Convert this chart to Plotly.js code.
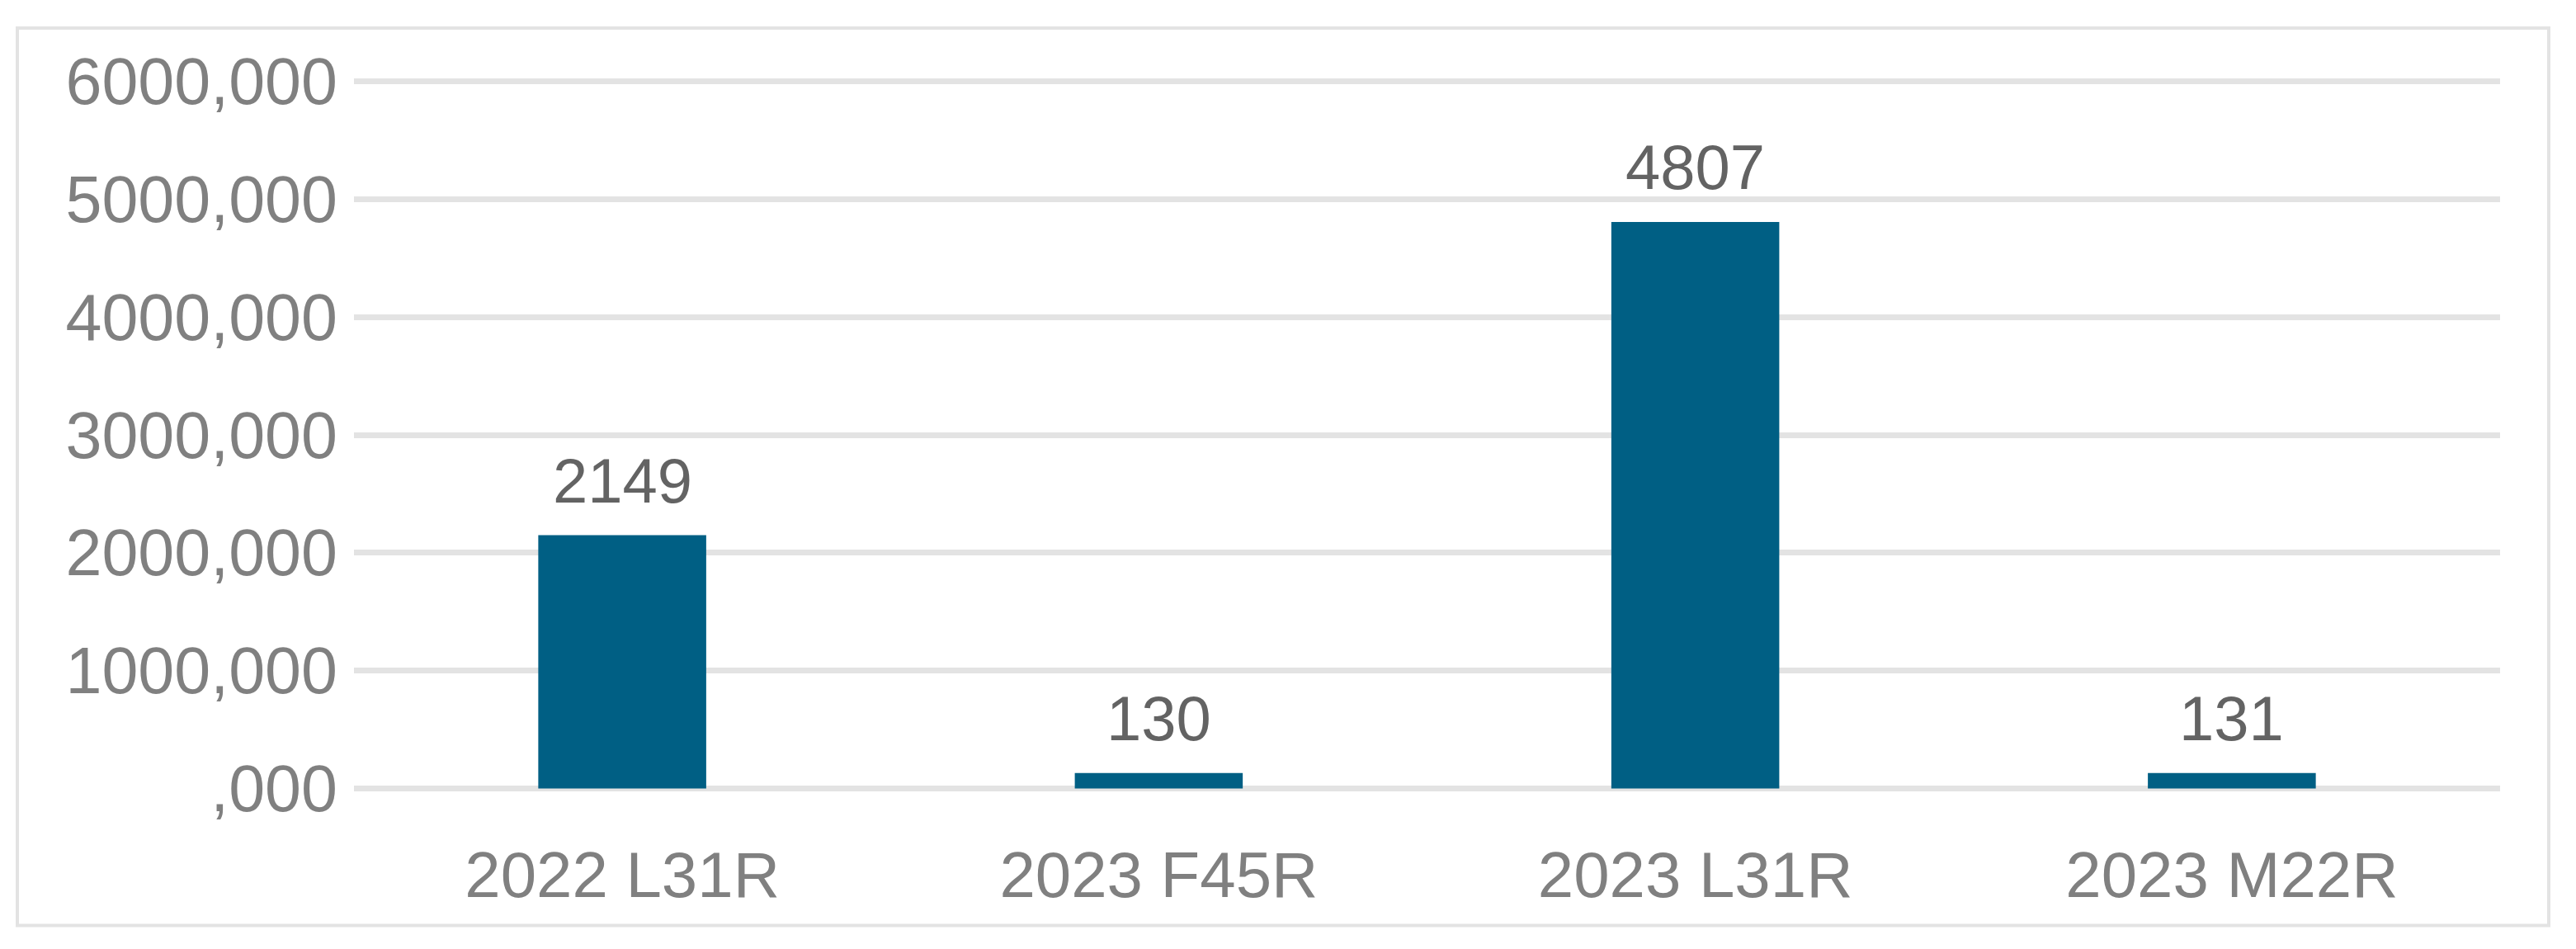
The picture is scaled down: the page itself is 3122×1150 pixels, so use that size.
<!DOCTYPE html>
<html>
<head>
<meta charset="utf-8">
<script src="https://cdn.plot.ly/plotly-3.0.1.min.js"></script>
<style>html,body{margin:0;padding:0;background:#fff;}#chart{width:3122px;height:1150px;}</style>
</head>
<body>
<div id="chart"></div>
<script>
const categories = ["2022 L31R", "2023 F45R", "2023 L31R", "2023 M22R"];
const values = [2149, 130, 4807, 131];
const labels = ["2149", "130", "4807", "131"];
const yTickVals = [0, 1000, 2000, 3000, 4000, 5000, 6000];
const yTickText = [",000", "1000,000", "2000,000", "3000,000", "4000,000", "5000,000", "6000,000"];

const FONT = "'Liberation Sans', Arial, sans-serif";

const trace = {
  type: "bar",
  x: categories,
  y: values,
  marker: {color: "#005f84"},
  hoverinfo: "skip"
};

const annotations = categories.map((c, i) => ({
  x: c, y: values[i], xref: "x", yref: "y",
  text: labels[i], showarrow: false,
  yanchor: "bottom", yshift: 22,
  font: {family: FONT, size: 76, color: "#636363"}
}));

const W = 3122, H = 1150;
const mL = 429, mR = 92, mT = 95, mB = 191;
const pw = W - mL - mR, ph = H - mT - mB;
const px = v => (v - mL) / pw;
const py = v => (H - mB - v) / ph;

const layout = {
  width: W, height: H,
  margin: {l: mL, r: mR, t: mT, b: mB, pad: 0},
  paper_bgcolor: "#ffffff",
  plot_bgcolor: "#ffffff",
  showlegend: false,
  bargap: 0.687,
  font: {family: FONT, size: 78, color: "#808080"},
  xaxis: {
    type: "category",
    showgrid: false, zeroline: false, showline: false,
    ticks: "", ticklabelstandoff: 49,
    tickfont: {family: FONT, size: 78, color: "#808080"},
    fixedrange: true
  },
  yaxis: {
    range: [-25, 6025],
    tickvals: yTickVals, ticktext: yTickText,
    showgrid: true, gridcolor: "#e3e3e3", gridwidth: 7,
    zeroline: false, showline: false,
    ticks: "", ticklabelstandoff: 19,
    tickfont: {family: FONT, size: 79, color: "#808080"},
    fixedrange: true
  },
  annotations: annotations,
  shapes: [{
    type: "rect", xref: "paper", yref: "paper",
    x0: px(21), x1: px(3089), y0: py(1121.5), y1: py(34),
    line: {color: "#e3e3e3", width: 4}, fillcolor: "rgba(0,0,0,0)", layer: "below"
  }]
};

Plotly.newPlot("chart", [trace], layout, {displayModeBar: false, staticPlot: true});
</script>
</body>
</html>
